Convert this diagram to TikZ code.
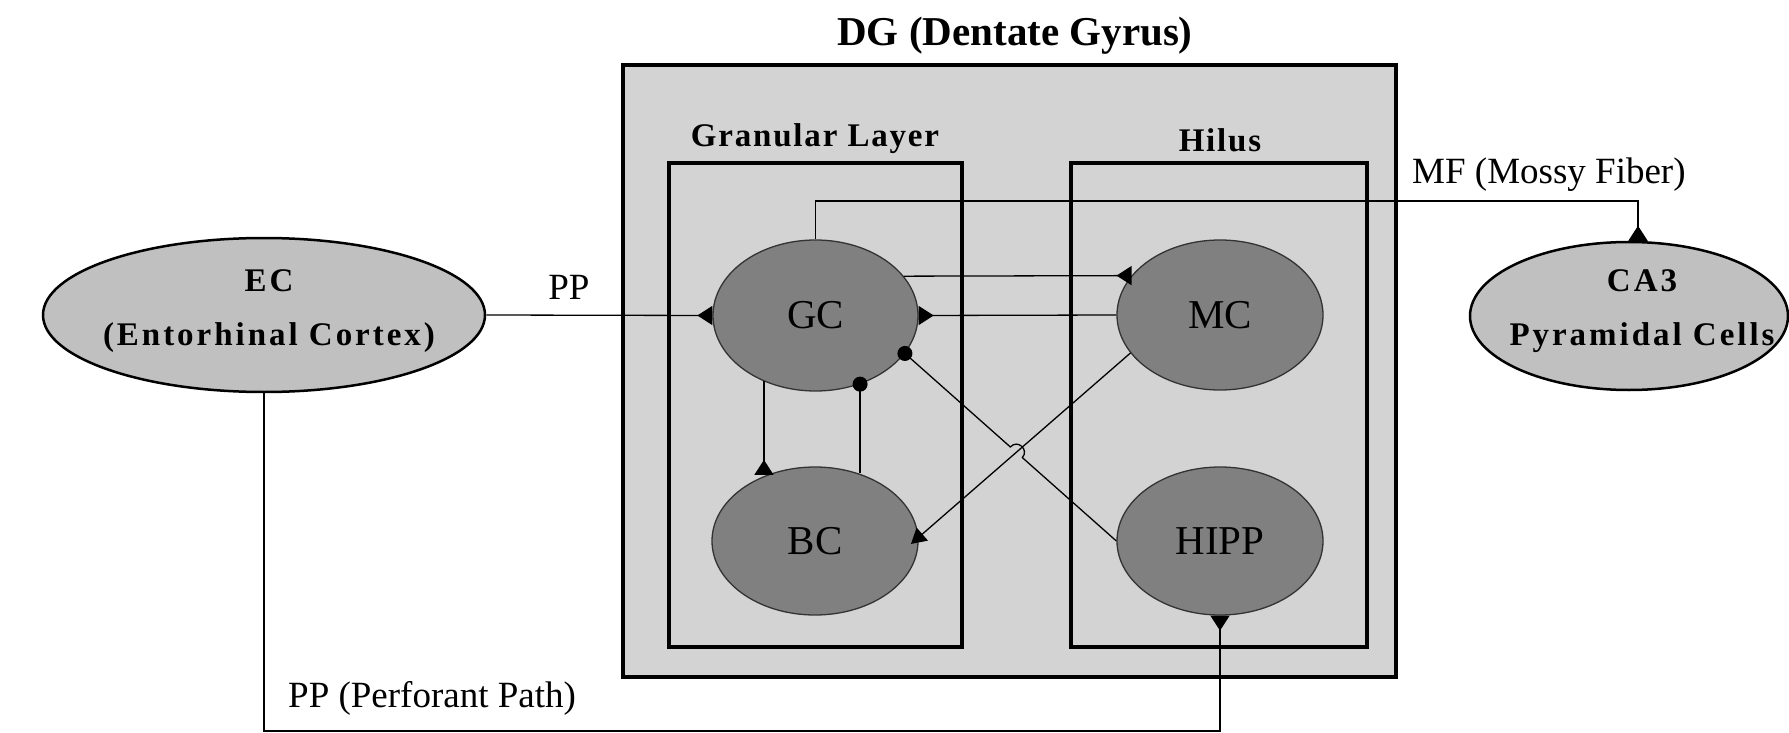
\documentclass[tikz,border=0pt]{standalone}
\usepackage{fontspec}
\setmainfont{Liberation Serif}
\usetikzlibrary{arrows.meta,shapes.geometric,calc,intersections}
\definecolor{dgfill}{HTML}{D3D3D3}
\definecolor{cellfill}{HTML}{808080}
\definecolor{areafill}{HTML}{C0C0C0}
\begin{document}
\begin{tikzpicture}[x=1pt,y=-1pt,
  region/.style={rectangle, draw=black, line width=3.5pt, fill=dgfill, inner sep=0pt},
  cell/.style={ellipse, draw=black!80, line width=1.3pt, fill=cellfill, inner sep=0pt,
    font=\fontsize{41}{48}\selectfont},
  area/.style={ellipse, draw=black, line width=2.5pt, fill=areafill, inner sep=0pt},
  titlelbl/.style={inner sep=0pt, font=\fontsize{41}{48}\selectfont\bfseries},
  layerlbl/.style={inner sep=0pt, font=\fontsize{33}{40}\selectfont\bfseries\addfontfeature{LetterSpace=5.5}},
  arealbl/.style={inner sep=0pt, align=center, font=\fontsize{33}{54}\selectfont\bfseries\addfontfeature{LetterSpace=9}},
  plainlbl/.style={inner sep=0pt, font=\fontsize{37}{44}\selectfont},
  conn/.style={draw=black, line width=1.3pt},
  exc/.style={-{Triangle[reversed,length=15pt,width=19pt]}},
  excin/.style={-{Triangle[length=15pt,width=17pt]}, shorten >=-10pt},
  inh/.style={-{Circle[length=15pt]}, shorten >=-7.5pt},
]
\useasboundingbox (0,0) rectangle (1789,733);

% dentate gyrus and its two layers
\node[region, minimum width=773pt, minimum height=612pt] (DG) at (1009.5,371) {};
\node[titlelbl, anchor=base] (DGt) at (1015,46) {DG (Dentate Gyrus)};
\node[region, minimum width=293pt, minimum height=484pt] (GL) at (815.5,405) {};
\node[region, minimum width=296pt, minimum height=484pt] (HL) at (1219,405) {};
\node[layerlbl, anchor=base] (GLt) at (815,147) {Granular Layer};
\node[layerlbl, anchor=base] (HLt) at (1220,152) {Hilus};

% cell populations
\node[cell, minimum width=205pt, minimum height=151pt] (GC) at (815.5,315.5) {GC};
\node[cell, minimum width=206pt, minimum height=148pt] (BC) at (815,541) {BC};
\node[cell, minimum width=206pt, minimum height=150pt] (MC) at (1220,315) {MC};
\node[cell, minimum width=206pt, minimum height=148pt] (HIPP) at (1220,541) {HIPP};

% input and output areas
\node[area, minimum width=442pt, minimum height=154pt] (EC) at (264,315) {};
\node[arealbl] (ECt) at (269,311) {EC\\(Entorhinal Cortex)};
\node[area, minimum width=318pt, minimum height=148pt] (CA3) at (1629,316) {};
\node[arealbl] (CA3t) at (1642,311) {CA3\\Pyramidal Cells};

% pathway labels
\node[plainlbl, anchor=base] (PPl) at (569,299) {PP};
\node[plainlbl, anchor=base west] (MFl) at (1412,183) {MF (Mossy Fiber)};
\node[plainlbl, anchor=base west] (PPPl) at (288,707) {PP (Perforant Path)};

% helper points for routed paths
\coordinate (mf) at (1638,201);
\coordinate (pplow) at (700,731);

% connections
\draw[conn, exc] (EC.east) -- (GC.west);
\draw[conn, exc] (GC.north) |- (mf) -- (mf |- CA3.north);
\draw[conn, exc] (GC.24) -- (MC.156);
\draw[conn, exc] (MC.west) -- (GC.east);
\draw[conn, exc] (GC.232) -- (GC.232 |- BC.126);
\draw[conn, inh] (GC.-57.5 |- BC.58) -- (GC.-57.5);
\draw[conn, excin, name path=mcbc] (MC.203) -- (BC.2);
\path[name path=hippgc] (HIPP.west) -- (GC.-23);
\path[name intersections={of=mcbc and hippgc, by=X}];
\coordinate (j1) at ($(X)!8pt!(HIPP.west)$);
\coordinate (j2) at ($(X)!8pt!(GC.-23)$);
\draw[conn, inh] (HIPP.west) -- (j1)
  .. controls ($(j1)!10.7pt!-90:(j2)$) and ($(j2)!10.7pt!90:(j1)$) .. (j2) -- (GC.-23);
\draw[conn, exc] (EC.south) |- (HIPP.south |- pplow) -- (HIPP.south);
\end{tikzpicture}
\end{document}
